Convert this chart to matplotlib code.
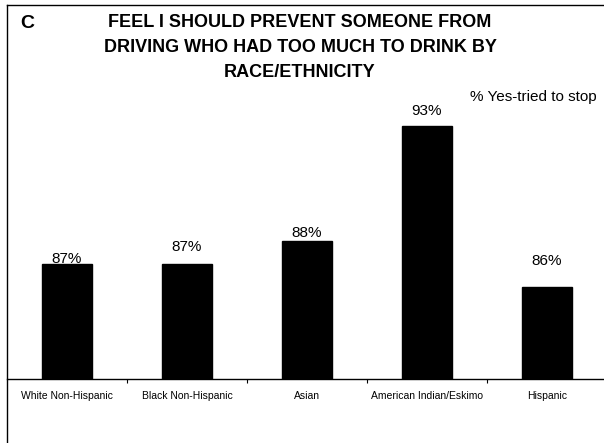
import matplotlib
matplotlib.use("Agg")
import matplotlib.pyplot as plt
from matplotlib.lines import Line2D

plt.rcParams['font.family'] = ['Liberation Sans', 'DejaVu Sans']

categories = ["White Non-Hispanic", "Black Non-Hispanic", "Asian",
              "American Indian/Eskimo", "Hispanic"]
values = [87, 87, 88, 93, 86]
value_labels = ["87%", "87%", "88%", "93%", "86%"]
# gap (points) between bar top and label baseline
label_gaps = [0.5, 9.5, 3.0, 8.0, 16.0]

title = ("FEEL I SHOULD PREVENT SOMEONE FROM\n"
         "DRIVING WHO HAD TOO MUCH TO DRINK BY\n"
         "RACE/ETHNICITY")
series_name = "% Yes-tried to stop"
panel_letter = "C"

W, H = 604, 443
fig = plt.figure(figsize=(W / 100, H / 100), dpi=100)
fig.patch.set_facecolor("white")

# plot area: left at x=7px, baseline at y=379px
ax = fig.add_axes([7 / W, (H - 379) / H, 600 / W, 276 / H])
ax.set_facecolor("none")
x = list(range(len(categories)))
ax.bar(x, values, width=0.42, bottom=0, color="black", edgecolor="black", zorder=2)
ax.set_xlim(-0.5, len(categories) - 0.5)
ax.set_ylim(82, 94)

for xi, v, lab, g in zip(x, values, value_labels, label_gaps):
    ax.annotate(lab, (xi, v), xytext=(0, g), textcoords="offset points",
                ha="center", va="baseline", fontsize=11, color="black", zorder=3)

for s in ["top", "right", "left"]:
    ax.spines[s].set_visible(False)
ax.spines["bottom"].set_color("black")
ax.spines["bottom"].set_linewidth(1.0)
ax.set_yticks([])
ax.set_xticks(x)
ax.set_xticklabels(categories, fontsize=7.5)
ax.tick_params(axis="x", which="major", length=0, pad=8.5)
ax.set_xticks([i + 0.5 for i in x[:-1]], minor=True)
ax.tick_params(axis="x", which="minor", length=3, width=0.8, direction="out", color="black")

# frame lines along the left and top edges
fig.add_artist(Line2D([7 / W, 7 / W], [0, (H - 5) / H], transform=fig.transFigure,
                      color="black", lw=1.0))
fig.add_artist(Line2D([7 / W, 1.0], [(H - 5) / H, (H - 5) / H], transform=fig.transFigure,
                      color="black", lw=1.0))

fig.text(300 / W, (H - 14) / H, title, ha="center", va="top", fontsize=13,
         fontweight="bold", linespacing=1.6)
fig.text(20 / W, (H - 23) / H, panel_letter, ha="left", va="center", fontsize=14,
         fontweight="bold")
fig.text(597 / W, (H - 97) / H, series_name, ha="right", va="center", fontsize=11)

fig.savefig("out.png", dpi=100, facecolor="white")
